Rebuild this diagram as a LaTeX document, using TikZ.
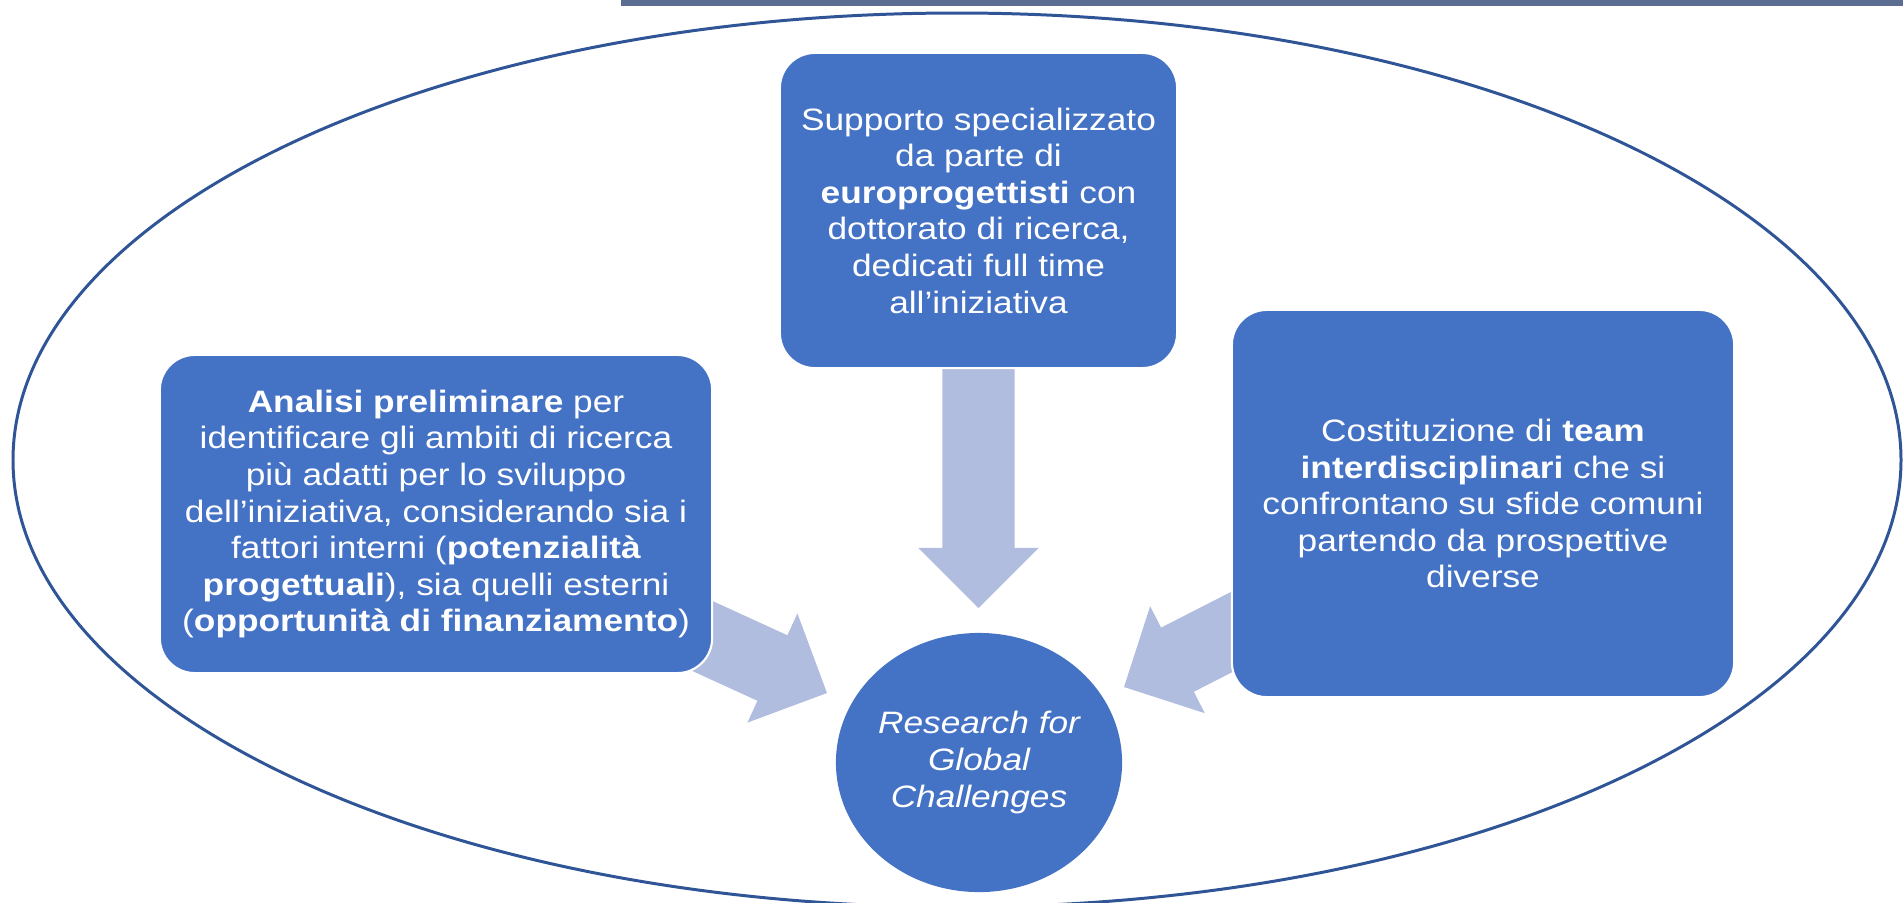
\documentclass[tikz,border=0pt]{standalone}
\usepackage{fontspec}
\setmainfont{Liberation Sans}[FakeStretch=1.14]
\usepackage{tikz}
\usetikzlibrary{calc,shapes.geometric,backgrounds}
\definecolor{boxblue}{RGB}{68,114,196}
\definecolor{arrowblue}{RGB}{176,189,223}
\definecolor{ringblue}{RGB}{47,85,151}
\definecolor{barslate}{RGB}{91,110,145}
\tikzset{%
	txt/.style      = {font=\fontsize{8.8pt}{10.4pt}\selectfont, text=white, align=center, inner sep=0pt},
	block/.style    = {txt, rectangle, rounded corners=0.35cm, fill=boxblue, draw=white, line width=0.6pt},
	hub/.style      = {txt, ellipse, fill=boxblue, minimum width=2.86cm, minimum height=2.59cm},
	arrowfill/.style= {fill=arrowblue},
}
% fat arrow from #1 (tail) to #2 (tip)
\newcommand{\blockarrow}[2]{%
	\coordinate (hd) at ($(#2)!0.6cm!(#1)$);
	\fill[arrowfill] ($(#1)!0.36cm!90:(#2)$) -- ($(hd)!0.36cm!90:(#2)$)
		-- ($(hd)!0.6cm!90:(#2)$) -- (#2) -- ($(hd)!0.6cm!-90:(#2)$)
		-- ($(hd)!0.36cm!-90:(#2)$) -- ($(#1)!0.36cm!-90:(#2)$) -- cycle;}

\begin{document}
\begin{tikzpicture}[x=0.01cm,y=-0.01cm]
	\useasboundingbox (0,0) rectangle (1903,902);
	\fill[barslate] (621,0) rectangle (1903,6);
	\draw[ringblue, line width=0.85pt] (957,460) ellipse [x radius=944, y radius=447];
	
	\node[block, minimum width=3.97cm, minimum height=3.15cm] (support) at (978.5,210.5)
		{Supporto specializzato\\da parte di\\\textbf{europrogettisti} con\\dottorato di ricerca,\\dedicati full time\\all’iniziativa};
	\node[block, minimum width=5.52cm, minimum height=3.18cm] (analysis) at (436,514)
		{\textbf{Analisi preliminare} per\\identificare gli ambiti di ricerca\\più adatti per lo sviluppo\\dell’iniziativa, considerando sia i\\fattori interni (\textbf{potenzialità}\\\textbf{progettuali}), sia quelli esterni\\(\textbf{opportunità di finanziamento})};
	\node[block, minimum width=5.02cm, minimum height=3.87cm] (teams) at (1483,503.5)
		{Costituzione di \textbf{team}\\\textbf{interdisciplinari} che si\\confrontano su sfide comuni\\partendo da prospettive\\diverse};
	\node[hub] (rgc) at (979,762.5) {\itshape Research for\\\itshape Global\\\itshape Challenges};
	
	\coordinate (tipT) at (978.5,608);
	\coordinate (tipL) at (827,693);
	\coordinate (tipR) at (1124,687);
	\begin{scope}[on background layer]
		\blockarrow{support.center}{tipT}
		\blockarrow{analysis.center}{tipL}
		\blockarrow{teams.center}{tipR}
	\end{scope}
\end{tikzpicture}
\end{document}
